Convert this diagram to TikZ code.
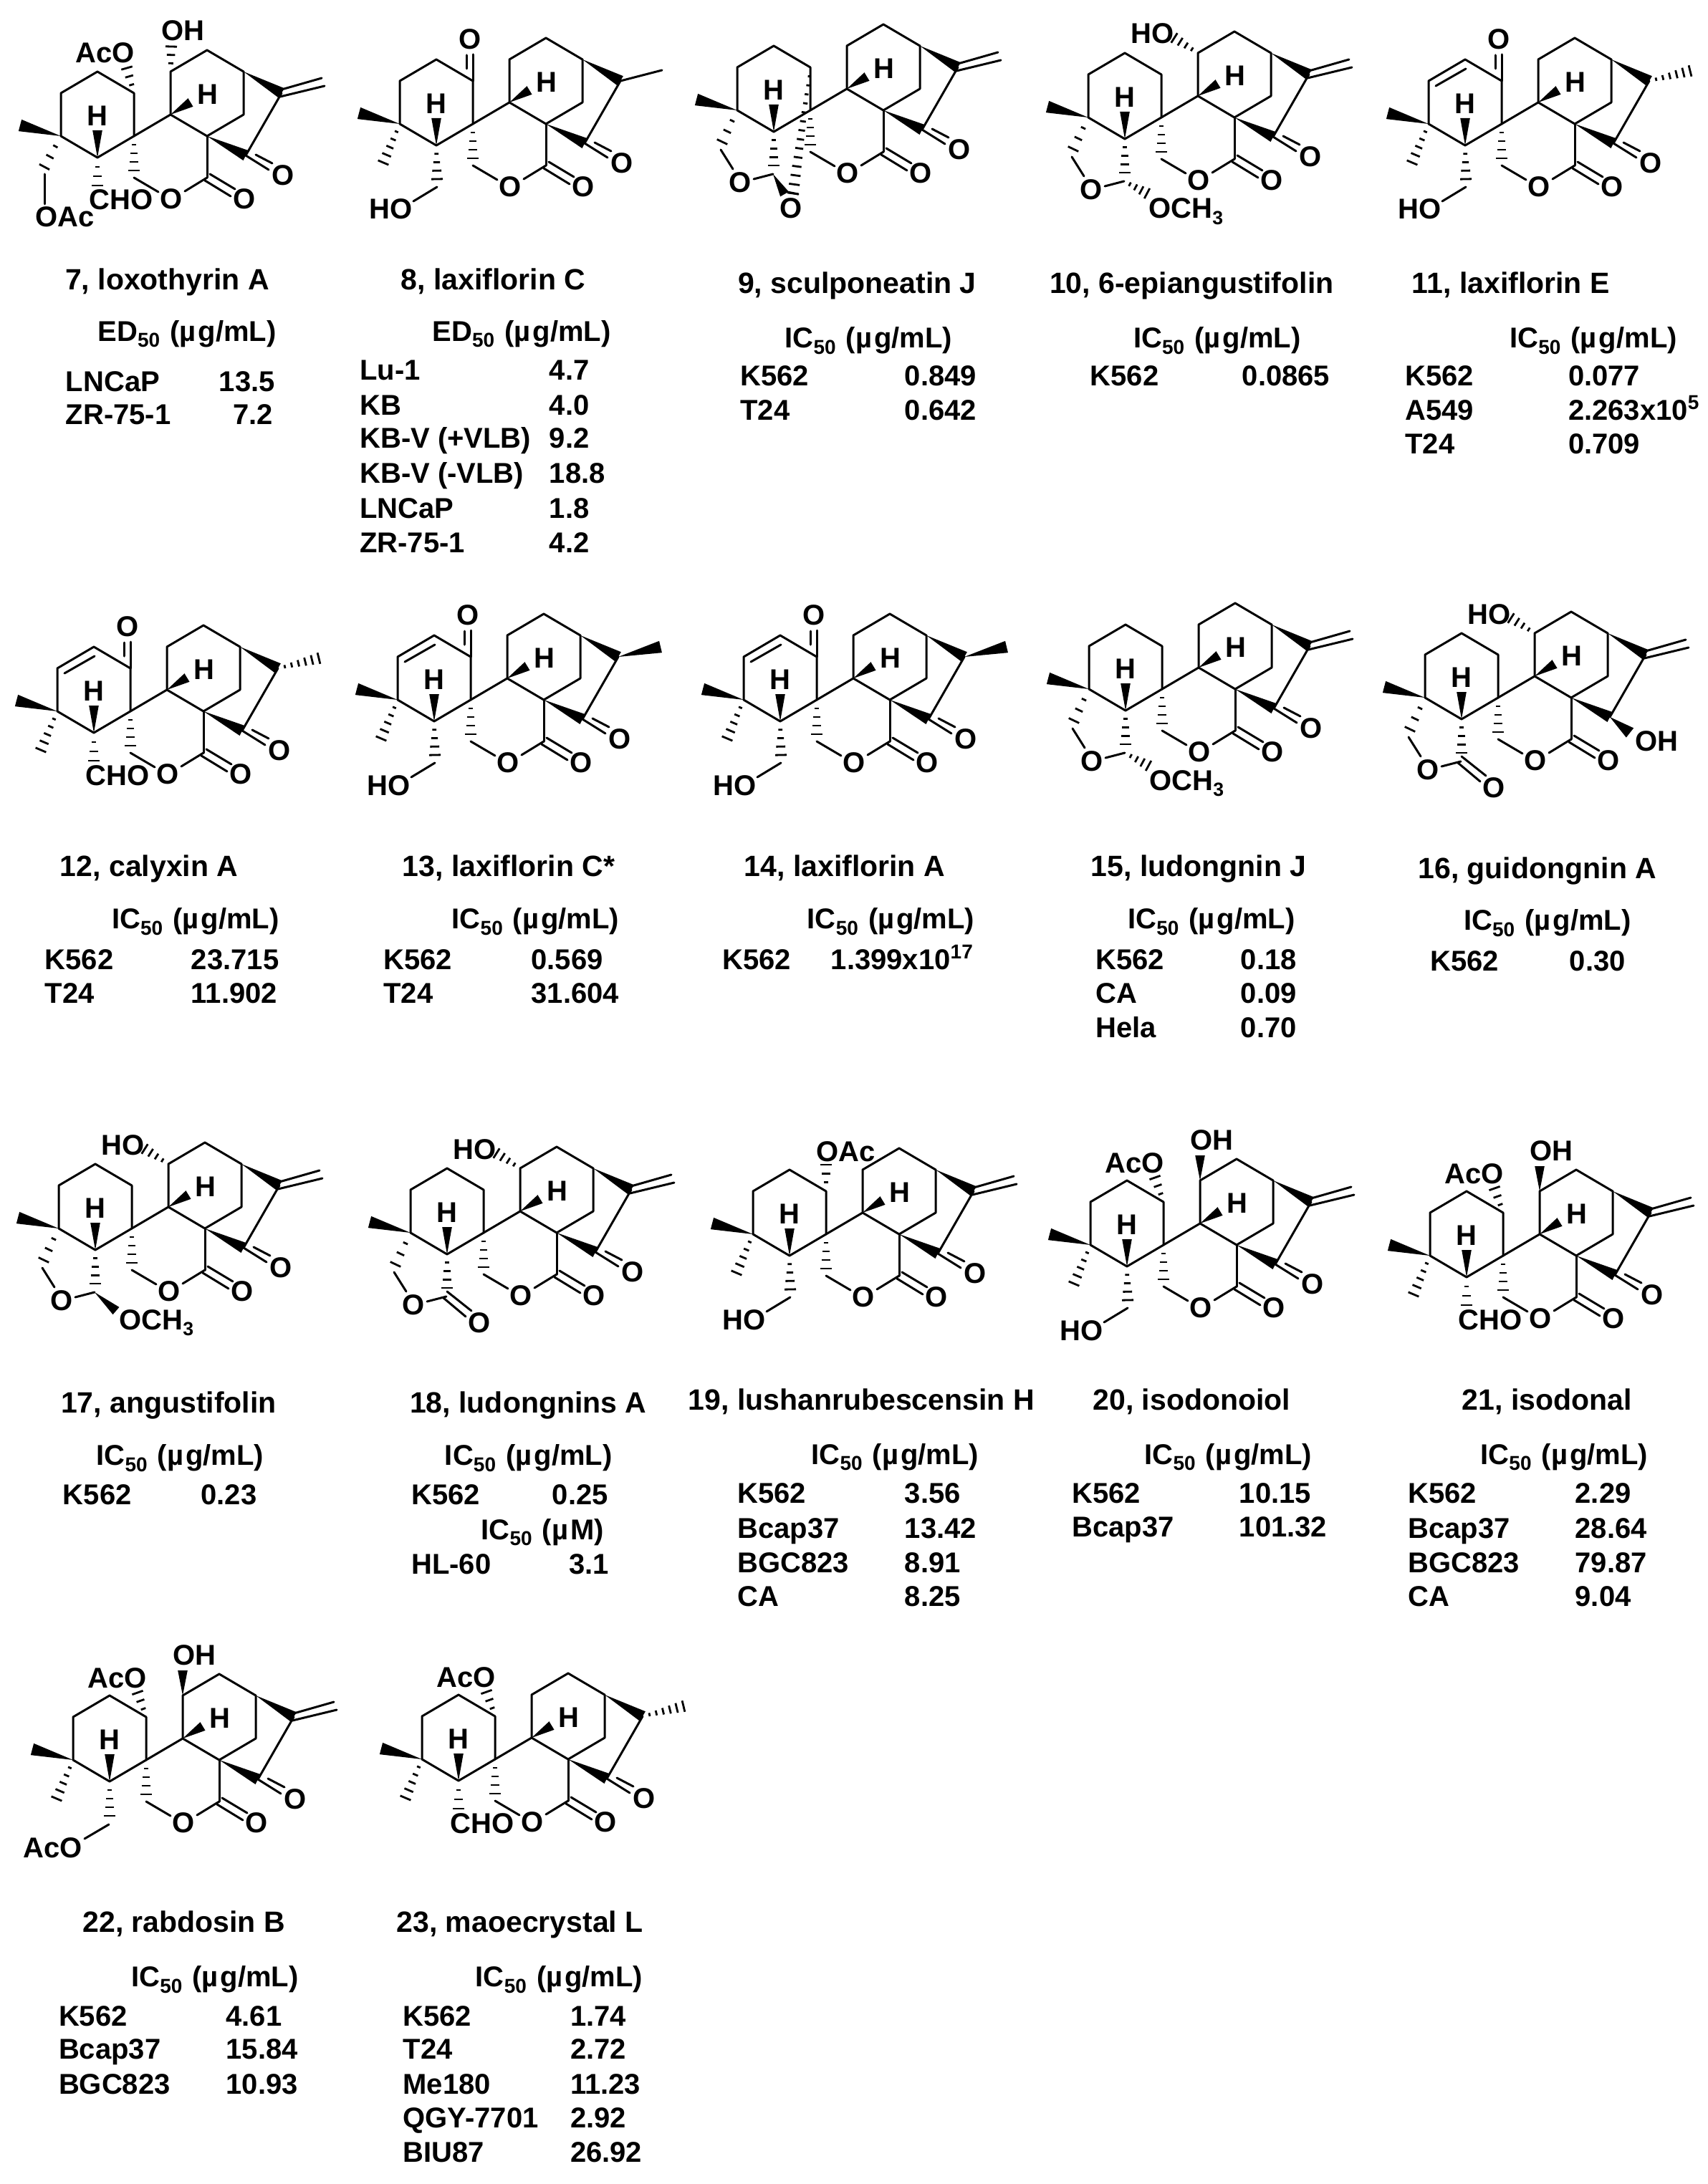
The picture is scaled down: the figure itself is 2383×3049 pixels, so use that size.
\documentclass[tikz,border=0pt]{standalone}
\usepackage{fontspec}
\setmainfont{Liberation Sans}
\usetikzlibrary{calc}
\tikzset{
  bond/.style={line width=1.5pt,line join=round,line cap=round},
  atom/.style={font=\bfseries\fontsize{20}{22}\selectfont,inner sep=0pt},
  lab/.style={atom,anchor=base west},
  ttl/.style={font=\bfseries\fontsize{20.5}{22}\selectfont,inner sep=0pt,anchor=base,yshift=-6.5pt},
  cell/.style={atom,anchor=base west,yshift=-6.5pt},
}
\newcommand{\sbs}[1]{\raisebox{-.22em}{\fontsize{14}{15}\selectfont #1}}
\newcommand{\ugml}{\ \hspace{1.5pt}(µ\hspace{1.5pt}g/mL)}
\newcommand{\wbond}[3][3.9pt]{\fill ($(#3)!#1!90:(#2)$) -- (#2) -- ($(#3)!#1!-90:(#2)$) -- cycle;}
\newcommand{\hbond}[3][4]{\foreach \i in {1,...,#1}{
  \pgfmathsetmacro\hfr{\i/#1}
  \pgfmathsetmacro\hwd{0.6+3.4*\i/#1}
  \draw[line width=1.4pt] ($(#2)!\hfr!(#3)!\hwd pt!90:(#2)$) -- ($(#2)!\hfr!(#3)!\hwd pt!-90:(#2)$);
}}
% common skeleton, spiro carbon c10 at the origin
\newcommand{\skel}{
  \coordinate (c10) at (0,0); \coordinate (c1) at (0,-60); \coordinate (c2) at (-51,-90);
  \coordinate (c3) at (-102,-60); \coordinate (c4) at (-102,0); \coordinate (c5) at (-51,30);
  \coordinate (c9) at (51,-30); \coordinate (c11) at (51,-90); \coordinate (c12) at (102,-120);
  \coordinate (c13) at (153,-90); \coordinate (c14) at (153,-30); \coordinate (c8) at (102,0);
  \coordinate (c16) at (206,-60); \coordinate (c15) at (156,27); \coordinate (c20) at (102,58);
  \coordinate (c19) at (0,48); \coordinate (c19b) at (0,58); \coordinate (o1) at (34,78);
  \coordinate (o2) at (71,77); \coordinate (me4) at (-159,-15); \coordinate (w5) at (-51,-8);
  \coordinate (w9) at (79,-47);
  \coordinate (d1) at (99,62); \coordinate (d2) at (135,84); \coordinate (d3) at (106,53); \coordinate (d4) at (141,74);
  \draw[bond] (c1) -- (c2) -- (c3) -- (c4) -- (c5) -- (c10) -- cycle;
  \draw[bond] (c10) -- (c9) -- (c11) -- (c12) -- (c13) -- (c14) -- (c8) -- (c9);
  \draw[bond] (c16) -- (c15);
  \draw[bond] (c8) -- (c20);
  \draw[bond] (c19b) -- (o1);
  \draw[bond] (o2) -- (c20);
  \draw[bond] (d1) -- (d2);
  \draw[bond] (d3) -- (d4);
  \wbond{c13}{c16}
  \wbond{c8}{c15}
  \wbond[4.2pt]{c4}{me4}
  \wbond[3.4pt]{c5}{w5}
  \wbond[3.4pt]{c9}{w9}
  \hbond[4]{c10}{c19}
  \node[atom] (h5) at (-51,-28) {H};
  \node[atom] (h9) at (103,-58) {H};
  \node[atom] (olac) at (52,88) {O};
  \node[atom] (ocar) at (154,88) {O};
}
\newcommand{\ketone}{
  \coordinate (k1) at (188,47); \coordinate (k2) at (170,26); \coordinate (k3) at (193,38);
  \draw[bond] (c15) -- (k1);
  \draw[bond] (k2) -- (k3);
  \node[atom] (oket) at (208,55) {O};
}
\newcommand{\exomethylene}{
  \coordinate (e1) at (204,-55); \coordinate (e2) at (266,-70);
  \coordinate (e3) at (206,-65); \coordinate (e4) at (262,-81);
  \draw[bond] (e1) -- (e2);
  \draw[bond] (e3) -- (e4);
}
\newcommand{\meplain}{\coordinate (me16) at (264,-75); \draw[bond] (c16) -- (me16);}
\newcommand{\mewedge}{\coordinate (me16) at (265,-74); \wbond[4.2pt]{c16}{me16}}
\newcommand{\mehash}{\coordinate (me16) at (263,-74); \hbond[6]{c16}{me16}}
\newcommand{\mefour}{\coordinate (mh4) at (-125,54); \hbond[5]{c4}{mh4}}
\newcommand{\enone}{
  \coordinate (y1) at (0,-97); \coordinate (y2) at (-9,-96); \coordinate (y3) at (-9,-77);
  \draw[bond] (c1) -- (y1);
  \draw[bond] (y2) -- (y3);
  \node[atom] (oone) at (-4,-118) {O};
}
\newcommand{\alkene}{
  \coordinate (a1) at (-92,-53); \coordinate (a2) at (-50,-77);
  \draw[bond] (a1) -- (a2);
}
\newcommand{\hoarm}{
  \coordinate (s1) at (-50,77); \coordinate (s2) at (-50,88); \coordinate (s3) at (-83,108);
  \hbond[4]{c5}{s1}
  \draw[bond] (s2) -- (s3);
  \node[lab] (hoa) at (-145,133) {HO};
}
\newcommand{\choarm}{
  \coordinate (s1) at (-51,69);
  \hbond[3]{c5}{s1}
  \node[lab] (cho) at (-63,103) {CHO};
}
\newcommand{\ringo}{
  \coordinate (r1) at (-123,44); \coordinate (r2) at (-125,55); \coordinate (r3) at (-108,82);
  \coordinate (s1) at (-51,77); \coordinate (cc) at (-52,89); \coordinate (r4) at (-79,96);
  \hbond[3]{c4}{r1}
  \hbond[4]{c5}{s1}
  \draw[bond] (r2) -- (r3);
  \draw[bond] (r4) -- (cc);
  \node[atom] (oring) at (-98,101) {O};
}
\newcommand{\lacto}{
  \coordinate (q1) at (-56,91); \coordinate (q2) at (-25,117); \coordinate (q3) at (-51,82); \coordinate (q4) at (-17,109);
  \draw[bond] (q1) -- (q2);
  \draw[bond] (q3) -- (q4);
  \node[atom] (oq) at (-6,126) {O};
}
\newcommand{\och}{\node[lab] (och) at (-18,141) {OCH\raisebox{-.22em}{\fontsize{13.3}{14}\selectfont 3}};}
\newcommand{\acoup}{
  \coordinate (b1) at (-12,-94);
  \hbond[3]{c1}{b1}
  \node[lab] (aco) at (-82,-101) {AcO};
}
\newcommand{\ohwedge}{
  \coordinate (b2) at (51,-125);
  \wbond[3.4pt]{c11}{b2}
  \node[lab] (ohu) at (37,-133) {OH};
}
\newcommand{\hohash}{
  \coordinate (b2) at (18,-111);
  \hbond[4]{c11}{b2}
  \node[lab] (hou) at (-43,-103) {HO};
}
\begin{document}
\begin{tikzpicture}[x=0.5pt,y=-0.5pt]
\useasboundingbox (0,0) rectangle (2383,3049);
% row 1
\begin{scope}[shift={(187,190)},name prefix=m7-]
\skel \ketone \exomethylene
\coordinate (b1) at (-10,-95); \hbond[3]{c1}{b1}
\node[lab] (aco) at (-82,-102) {AcO};
\coordinate (b2) at (52,-125); \hbond[3]{c11}{b2}
\node[lab] (oh) at (38,-133) {OH};
\coordinate (r1) at (-125,43); \coordinate (r2) at (-125,53); \coordinate (r3) at (-125,95);
\hbond[3]{c4}{r1}
\draw[bond] (r2) -- (r3);
\node[lab] (oac) at (-138,127) {OAc};
\choarm
\end{scope}
\begin{scope}[shift={(660,173)},name prefix=m8-]
\skel \ketone \meplain \mefour \enone \hoarm
\end{scope}
\begin{scope}[shift={(1131,154)},name prefix=m9-]
\skel \ketone \exomethylene \ringo
\coordinate (p1) at (-24,116); \coordinate (p2) at (-36,117); \coordinate (p3) at (-32,114); \coordinate (p4) at (-17,117);
\hbond[14]{c1}{p1}
\wbond[3.4pt]{cc}{p2}
\draw[bond] (p3) -- (p4);
\node[atom] (obr) at (-27,137) {O};
\end{scope}
\begin{scope}[shift={(1621,164)},name prefix=m10-]
\skel \ketone \exomethylene \ringo \hohash
\coordinate (p1) at (-20,106); \hbond[4]{cc}{p1}
\och
\end{scope}
\begin{scope}[shift={(2096,173)},name prefix=m11-]
\skel \ketone \mehash \mefour \enone \alkene \hoarm
\end{scope}
% row 2
\begin{scope}[shift={(182,993)},name prefix=m12-]
\skel \ketone \mehash \mefour \enone \alkene \choarm
\end{scope}
\begin{scope}[shift={(657,977)},name prefix=m13-]
\skel \ketone \mewedge \mefour \enone \alkene \hoarm
\end{scope}
\begin{scope}[shift={(1140,977)},name prefix=m14-]
\skel \ketone \mewedge \mefour \enone \alkene \hoarm
\end{scope}
\begin{scope}[shift={(1622,962)},name prefix=m15-]
\skel \ketone \exomethylene \ringo
\coordinate (p1) at (-19,107); \hbond[4]{cc}{p1}
\och
\end{scope}
\begin{scope}[shift={(2091,974)},name prefix=m16-]
\skel \exomethylene \ringo \lacto \hohash
\coordinate (p1) at (184,49); \wbond[4.2pt]{c15}{p1}
\node[lab] (ohk) at (191,74) {OH};
\end{scope}
% row 3
\begin{scope}[shift={(184,1715)},name prefix=m17-]
\skel \ketone \exomethylene \ringo \hohash
\coordinate (p1) at (-22,115); \wbond[3.4pt]{cc}{p1}
\och
\end{scope}
\begin{scope}[shift={(675,1721)},name prefix=m18-]
\skel \ketone \exomethylene \ringo \lacto \hohash
\end{scope}
\begin{scope}[shift={(1153,1723)},name prefix=m19-]
\skel \ketone \exomethylene \mefour \hoarm
\coordinate (b1) at (0,-97); \hbond[3]{c1}{b1}
\node[lab] (oac) at (-14,-102) {OAc};
\end{scope}
\begin{scope}[shift={(1624,1738)},name prefix=m20-]
\skel \ketone \exomethylene \mefour \hoarm \acoup \ohwedge
\end{scope}
\begin{scope}[shift={(2098,1753)},name prefix=m21-]
\skel \ketone \exomethylene \mefour \choarm \acoup \ohwedge
\end{scope}
% row 4
\begin{scope}[shift={(204,2457)},name prefix=m22-]
\skel \ketone \exomethylene \mefour \acoup \ohwedge
\coordinate (s1) at (-51,78); \coordinate (s2) at (-52,90); \coordinate (s3) at (-86,110);
\hbond[4]{c5}{s1}
\draw[bond] (s2) -- (s3);
\node[lab] (acb) at (-172,136) {AcO};
\end{scope}
\begin{scope}[shift={(691,2456)},name prefix=m23-]
\skel \ketone \mehash \mefour \choarm \acoup
\end{scope}
% names and tables
\begin{scope}[x=0.9727pt,y=-0.9727pt]
\node[ttl] (t7) at (120,201) {7, loxothyrin A};
\node[cell] (h7) at (70,238) {ED\sbs{50}\ugml};
\node[cell] (n7a) at (47,274) {LNCaP};
\node[cell] (v7a) at (157,274) {13.5};
\node[cell] (n7b) at (47,298) {ZR-75-1};
\node[cell] (v7b) at (167,298) {7.2};
\node[ttl] (t8) at (354,201) {8, laxiflorin C};
\node[cell] (h8) at (310,238) {ED\sbs{50}\ugml};
\node[cell] (n8a) at (258,266) {Lu-1};
\node[cell] (v8a) at (394,266) {4.7};
\node[cell] (n8b) at (258,291) {KB};
\node[cell] (v8b) at (394,291) {4.0};
\node[cell] (n8c) at (258,315) {KB-V (+VLB)};
\node[cell] (v8c) at (394,315) {9.2};
\node[cell] (n8d) at (258,340) {KB-V (-VLB)};
\node[cell] (v8d) at (394,340) {18.8};
\node[cell] (n8e) at (258,365) {LNCaP};
\node[cell] (v8e) at (394,365) {1.8};
\node[cell] (n8f) at (258,390) {ZR-75-1};
\node[cell] (v8f) at (394,390) {4.2};
\node[ttl] (t9) at (615,204) {9, sculponeatin J};
\node[cell] (h9) at (563,243) {IC\sbs{50}\ugml};
\node[cell] (n9a) at (531,270) {K562};
\node[cell] (v9a) at (649,270) {0.849};
\node[cell] (n9b) at (531,295) {T24};
\node[cell] (v9b) at (649,295) {0.642};
\node[ttl] (t10) at (855,204) {10, 6-epiangustifolin};
\node[cell] (h10) at (813,243) {IC\sbs{50}\ugml};
\node[cell] (n10a) at (782,270) {K562};
\node[cell] (v10a) at (891,270) {0.0865};
\node[ttl] (t11) at (1084,204) {11, laxiflorin E};
\node[cell] (h11) at (1083,243) {IC\sbs{50}\ugml};
\node[cell] (n11a) at (1008,270) {K562};
\node[cell] (v11a) at (1125,270) {0.077};
\node[cell] (n11b) at (1008,295) {A549};
\node[cell] (v11b) at (1125,295) {2.263x10\textsuperscript{5}};
\node[cell] (n11c) at (1008,319) {T24};
\node[cell] (v11c) at (1125,319) {0.709};
\node[ttl] (t12) at (107,622) {12, calyxin A};
\node[cell] (h12) at (80,660) {IC\sbs{50}\ugml};
\node[cell] (n12a) at (32,689) {K562};
\node[cell] (v12a) at (137,689) {23.715};
\node[cell] (n12b) at (32,713) {T24};
\node[cell] (v12b) at (137,713) {11.902};
\node[ttl] (t13) at (365,622) {13, laxiflorin C*};
\node[cell] (h13) at (324,660) {IC\sbs{50}\ugml};
\node[cell] (n13a) at (275,689) {K562};
\node[cell] (v13a) at (381,689) {0.569};
\node[cell] (n13b) at (275,713) {T24};
\node[cell] (v13b) at (381,713) {31.604};
\node[ttl] (t14) at (606,622) {14, laxiflorin A};
\node[cell] (h14) at (579,660) {IC\sbs{50}\ugml};
\node[cell] (n14a) at (518,689) {K562};
\node[cell] (v14a) at (596,689) {1.399x10\textsuperscript{17}};
\node[ttl] (t15) at (860,622) {15, ludongnin J};
\node[cell] (h15) at (809,660) {IC\sbs{50}\ugml};
\node[cell] (n15a) at (786,689) {K562};
\node[cell] (v15a) at (890,689) {0.18};
\node[cell] (n15b) at (786,713) {CA};
\node[cell] (v15b) at (890,713) {0.09};
\node[cell] (n15c) at (786,738) {Hela};
\node[cell] (v15c) at (890,738) {0.70};
\node[ttl] (t16) at (1103,624) {16, guidongnin A};
\node[cell] (h16) at (1050,661) {IC\sbs{50}\ugml};
\node[cell] (n16a) at (1026,690) {K562};
\node[cell] (v16a) at (1126,690) {0.30};
\node[ttl] (t17) at (121,1007) {17, angustifolin};
\node[cell] (h17) at (69,1045) {IC\sbs{50}\ugml};
\node[cell] (n17a) at (45,1073) {K562};
\node[cell] (v17a) at (144,1073) {0.23};
\node[ttl] (t18) at (379,1007) {18, ludongnins A};
\node[cell] (h18) at (319,1045) {IC\sbs{50}\ugml};
\node[cell] (n18a) at (295,1073) {K562};
\node[cell] (v18a) at (396,1073) {0.25};
\node[cell] (h18b) at (345,1098) {IC\sbs{50}\ \hspace{1.5pt}(µ\hspace{1.5pt}M)};
\node[cell] (n18b) at (295,1123) {HL-60};
\node[cell] (v18b) at (408,1123) {3.1};
\node[ttl] (t19) at (618,1005) {19, lushanrubescensin H};
\node[cell] (h19) at (582,1044) {IC\sbs{50}\ugml};
\node[cell] (n19a) at (529,1072) {K562};
\node[cell] (v19a) at (649,1072) {3.56};
\node[cell] (n19b) at (529,1097) {Bcap37};
\node[cell] (v19b) at (649,1097) {13.42};
\node[cell] (n19c) at (529,1122) {BGC823};
\node[cell] (v19c) at (649,1122) {8.91};
\node[cell] (n19d) at (529,1146) {CA};
\node[cell] (v19d) at (649,1146) {8.25};
\node[ttl] (t20) at (855,1005) {20, isodonoiol};
\node[cell] (h20) at (821,1044) {IC\sbs{50}\ugml};
\node[cell] (n20a) at (769,1072) {K562};
\node[cell] (v20a) at (889,1072) {10.15};
\node[cell] (n20b) at (769,1096) {Bcap37};
\node[cell] (v20b) at (889,1096) {101.32};
\node[ttl] (t21) at (1110,1005) {21, isodonal};
\node[cell] (h21) at (1062,1044) {IC\sbs{50}\ugml};
\node[cell] (n21a) at (1010,1072) {K562};
\node[cell] (v21a) at (1130,1072) {2.29};
\node[cell] (n21b) at (1010,1097) {Bcap37};
\node[cell] (v21b) at (1130,1097) {28.64};
\node[cell] (n21c) at (1010,1122) {BGC823};
\node[cell] (v21c) at (1130,1122) {79.87};
\node[cell] (n21d) at (1010,1146) {CA};
\node[cell] (v21d) at (1130,1146) {9.04};
\node[ttl] (t22) at (132,1380) {22, rabdosin B};
\node[cell] (h22) at (94,1419) {IC\sbs{50}\ugml};
\node[cell] (n22a) at (42,1447) {K562};
\node[cell] (v22a) at (162,1447) {4.61};
\node[cell] (n22b) at (42,1471) {Bcap37};
\node[cell] (v22b) at (162,1471) {15.84};
\node[cell] (n22c) at (42,1496) {BGC823};
\node[cell] (v22c) at (162,1496) {10.93};
\node[ttl] (t23) at (373,1380) {23, maoecrystal L};
\node[cell] (h23) at (341,1419) {IC\sbs{50}\ugml};
\node[cell] (n23a) at (289,1447) {K562};
\node[cell] (v23a) at (409,1447) {1.74};
\node[cell] (n23b) at (289,1471) {T24};
\node[cell] (v23b) at (409,1471) {2.72};
\node[cell] (n23c) at (289,1496) {Me180};
\node[cell] (v23c) at (409,1496) {11.23};
\node[cell] (n23d) at (289,1520) {QGY-7701};
\node[cell] (v23d) at (409,1520) {2.92};
\node[cell] (n23e) at (289,1545) {BIU87};
\node[cell] (v23e) at (409,1545) {26.92};
\end{scope}
\end{tikzpicture}
\end{document}
